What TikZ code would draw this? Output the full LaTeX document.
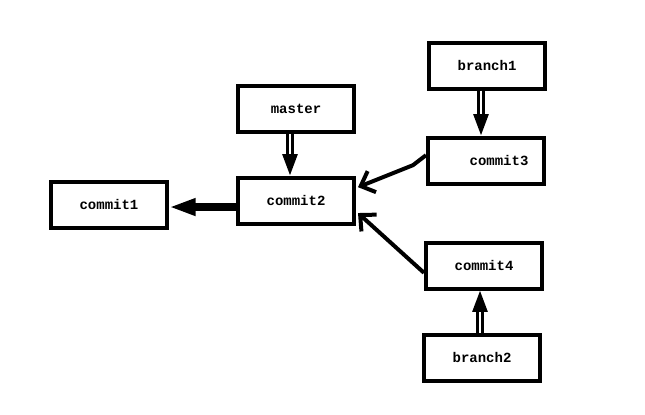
\documentclass[tikz,border=0pt]{standalone}
\usepackage{fontspec}
\setmonofont{Liberation Mono}
\usetikzlibrary{arrows.meta}
\begin{document}
\begin{tikzpicture}[x=0.75pt,y=-0.75pt,
  box/.style={draw,line width=3pt,rectangle,inner sep=0pt,minimum width=87pt,minimum height=34.5pt,font=\ttfamily\bfseries\fontsize{10.5}{12}\selectfont},
  dbl/.style={line width=2.6pt,double,double distance=1.5pt,-{Triangle[length=16pt,width=11pt]}},
  thick arrow/.style={line width=5.5pt,-{Triangle[length=20pt,width=12pt]}},
  conn/.style={line width=3pt,line join=round,-{Straight Barb[length=9pt,width=17pt,line width=3pt]}}]
\useasboundingbox[fill=white] (0,0) rectangle (645,414);
\node[box] (commit1) at (109,204.5) {commit1\hspace{13.5pt}};
\node[box] (commit2) at (296,200.5) {commit2};
\node[box] (master)  at (296,109)   {master};
\node[box] (branch1) at (487,65.5)  {branch1};
\node[box] (commit3) at (486,160.5) {\hspace{19.5pt}commit3};
\node[box] (commit4) at (484,265.5) {commit4};
\node[box] (branch2) at (482,357.5) {branch2};
\draw[dbl] ([xshift=-4.5pt]master.south) -- ([xshift=-4.5pt]commit2.north);
\draw[dbl] ([xshift=-4.5pt]branch1.south) -- ([xshift=-3.75pt]commit3.north);
\draw[dbl] ([xshift=-1.5pt]branch2.north) -- ([xshift=-3pt]commit4.south);
\draw[thick arrow] ([yshift=-4.9pt]commit2.west) -- ([yshift=-1.9pt]commit1.east);
\draw[conn] ([yshift=4pt]commit3.west) -- ++(-13,10) -- ([yshift=10pt,xshift=1.5pt]commit2.east);
\draw[conn] ([yshift=-5.5pt]commit4.west) -- ([yshift=-9.4pt,xshift=1.5pt]commit2.east);
\end{tikzpicture}
\end{document}
